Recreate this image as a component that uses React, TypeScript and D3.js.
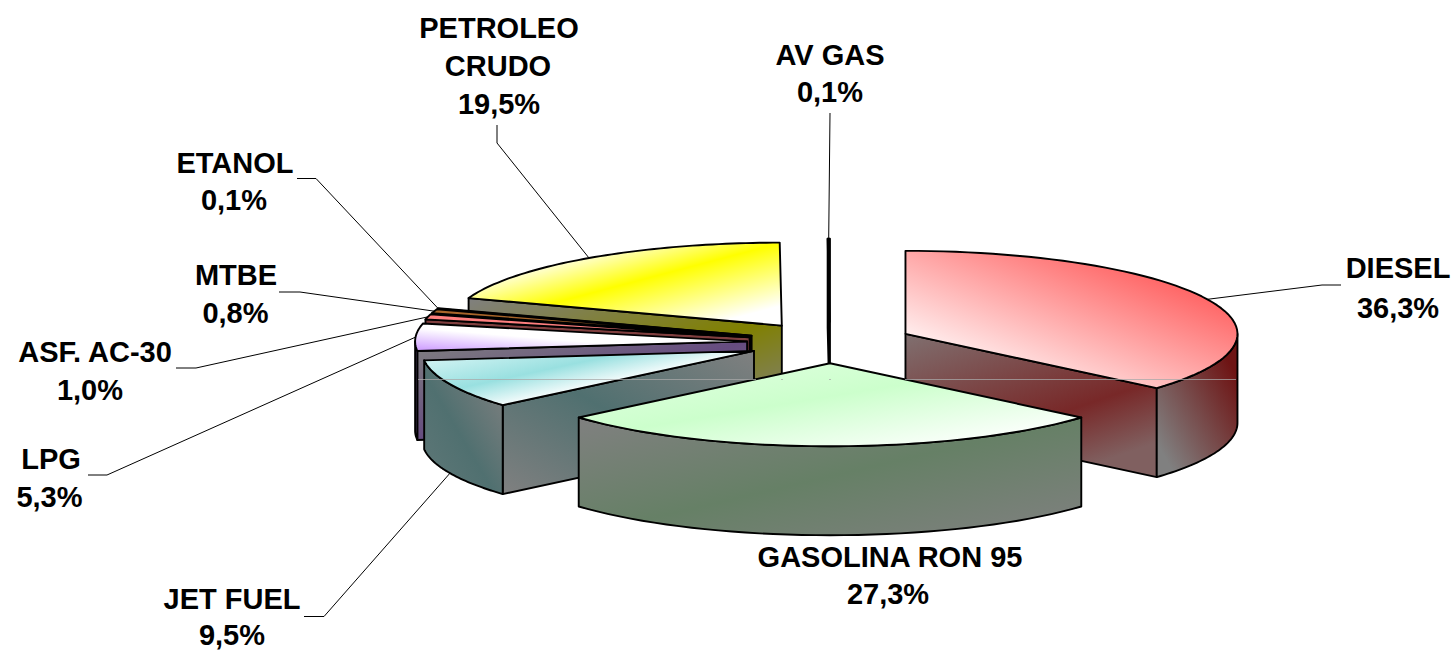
import React from "react";
import * as d3 from "d3";

const categories = ["DIESEL", "GASOLINA RON 95", "JET FUEL", "LPG", "ASF. AC-30", "MTBE", "ETANOL", "PETROLEO CRUDO", "AV GAS"];
const shares = [36.3, 27.3, 9.5, 5.3, 1.0, 0.8, 0.1, 19.5, 0.1];
const shareLabels = ["36,3%", "27,3%", "9,5%", "5,3%", "1,0%", "0,8%", "0,1%", "19,5%", "0,1%"];
const paintOrder = [8, 7, 6, 5, 4, 3, 2, 0, 1];

const W = 1454, H = 652;
const CX = 830, CY = 342.5, RX = 332, RY = 83, DEPTH = 89, EXPLODE = 0.25;

type Stop = [number, string];
type Grad = { v: [number, number, number, number]; stops: Stop[] } | string;
const GRAY = "#808080";
const styles: { top: Grad; cut: Grad; wall: Grad }[] = [
  {
    top: { v: [0, 1, 1, 0], stops: [[0.12, "#ffffff"], [0.82, "#ff5e5e"], [1, "#ff8a8a"]] },
    cut: { v: [0, 0, 0.6, 1], stops: [[0, "#807070"], [0.68, "#782828"], [1, "#806060"]] },
    wall: { v: [0, 1, 1, 0], stops: [[0.12, GRAY], [0.85, "#6e1414"]] },
  },
  {
    top: { v: [0, 0, 1, 1], stops: [[0, "#e4ffe4"], [0.45, "#ccffcc"], [0.9, "#ffffff"]] },
    cut: GRAY,
    wall: { v: [0, 0, 1, 1], stops: [[0, GRAY], [0.5, "#668066"], [1, GRAY]] },
  },
  {
    top: { v: [0, 0, 1, 0.77], stops: [[0, "#e0f8f8"], [0.4, "#99e0e0"], [0.66, "#ffffff"]] },
    cut: { v: [1, 0, 0, 1], stops: [[0, GRAY], [0.5, "#507070"], [1, GRAY]] },
    wall: { v: [1, 0, 0, 1], stops: [[0.05, GRAY], [0.55, "#507070"], [1, "#607878"]] },
  },
  {
    top: { v: [0, 1, 1, 0], stops: [[0, "#cc99ff"], [0.42, "#ffffff"]] },
    cut: { v: [0, 0, 1, 1], stops: [[0, GRAY], [0.5, "#664c80"], [1, GRAY]] },
    wall: "#664c80",
  },
  { top: "#ff7f7f", cut: "#803f3f", wall: "#803f3f" },
  { top: "#a8652a", cut: "#402408", wall: "#402408" },
  { top: "#303030", cut: "#000000", wall: "#000000" },
  {
    top: { v: [0, 0, 1, 1], stops: [[0.22, "#ffffff"], [0.5, "#ffff00"], [0.88, "#ffffff"]] },
    cut: { v: [0, 0, 1, 1], stops: [[0, GRAY], [0.57, "#808000"], [1, GRAY]] },
    wall: GRAY,
  },
  { top: "#000000", cut: "#000000", wall: "#000000" },
];

// name lines / share line: [centre x, baseline]
const labelLines: { t: string; x: number; y: number }[][] = [
  [{ t: "DIESEL", x: 1398, y: 278 }, { t: shareLabels[0], x: 1398, y: 318 }],
  [{ t: "GASOLINA RON 95", x: 890, y: 567 }, { t: shareLabels[1], x: 888, y: 604 }],
  [{ t: "JET FUEL", x: 232, y: 609 }, { t: shareLabels[2], x: 232, y: 645 }],
  [{ t: "LPG", x: 51, y: 469 }, { t: shareLabels[3], x: 49.5, y: 507 }],
  [{ t: "ASF. AC-30", x: 95, y: 362 }, { t: shareLabels[4], x: 90, y: 400 }],
  [{ t: "MTBE", x: 236, y: 285 }, { t: shareLabels[5], x: 235.5, y: 323 }],
  [{ t: "ETANOL", x: 235, y: 173 }, { t: shareLabels[6], x: 234, y: 210 }],
  [{ t: "PETROLEO", x: 499, y: 38 }, { t: "CRUDO", x: 498, y: 76 }, { t: shareLabels[7], x: 499, y: 114 }],
  [{ t: "AV GAS", x: 830, y: 65 }, { t: shareLabels[8], x: 830, y: 102 }],
];
// leader elbows: [label end, elbow]
const leaderElbows: [number, number][][] = [
  [[1341, 285], [1322, 285]],
  [],
  [[304, 616.5], [324, 616.5]],
  [[88, 475], [107, 475]],
  [[176, 368], [196, 368]],
  [[279, 292], [300, 292]],
  [[297, 178.5], [316, 178.5]],
  [[497, 125], [497, 143]],
  [[830, 113]],
];
const artifactSegments: [number, number][] = [[418, 756], [781, 783], [829, 831], [905, 1236]];

const arcs = d3.pie<number>().sort(null).startAngle(0).endAngle(2 * Math.PI)(shares);
const line = d3.line<[number, number]>();

function Gradient({ id, g }: { id: string; g: Grad }) {
  if (typeof g === "string") return null;
  return (
    <linearGradient id={id} x1={g.v[0]} y1={g.v[1]} x2={g.v[2]} y2={g.v[3]}>
      {g.stops.map(([o, c], i) => <stop key={i} offset={o} stopColor={c} />)}
    </linearGradient>
  );
}
const paint = (id: string, g: Grad) => (typeof g === "string" ? g : `url(#${id})`);

export default function App() {
  const slices = arcs.map((a, i) => {
    const mid = (a.startAngle + a.endAngle) / 2;
    const ax = CX + EXPLODE * RX * Math.sin(mid);
    const ay = CY - EXPLODE * RY * Math.cos(mid);
    const rim = (t: number, down = 0): [number, number] => [ax + RX * Math.sin(t), ay - RY * Math.cos(t) + down];
    const apex: [number, number] = [ax, ay];
    const steps = d3.range(0, 61).map((k) => a.startAngle + ((a.endAngle - a.startAngle) * k) / 60);
    const top = (line([apex, ...steps.map((t) => rim(t))]) ?? "") + "Z";
    const cutPath = (t: number) =>
      (line([apex, rim(t), rim(t, DEPTH), [ax, ay + DEPTH]]) ?? "") + "Z";
    const showStart = Math.sin(a.startAngle) < 0;
    const showEnd = Math.sin(a.endAngle) > 0;
    const w0 = Math.max(a.startAngle, Math.PI / 2);
    const w1 = Math.min(a.endAngle, (3 * Math.PI) / 2);
    let wall: string | null = null;
    if (w1 > w0) {
      const ws = d3.range(0, 41).map((k) => w0 + ((w1 - w0) * k) / 40);
      wall = (line([...ws.map((t) => rim(t)), ...ws.slice().reverse().map((t) => rim(t, DEPTH))]) ?? "") + "Z";
    }
    const frontMid = Math.cos(mid) < 0;
    const anchor = rim(mid, frontMid ? DEPTH : 0);
    return { i, top, wall, showStart, showEnd, cutStart: cutPath(a.startAngle), cutEnd: cutPath(a.endAngle), anchor };
  });

  return (
    <svg width={W} height={H} viewBox={`0 0 ${W} ${H}`} style={{ position: "absolute", left: 0, top: 0, background: "#fff" }}>
      <defs>
        {styles.map((s, i) => (
          <React.Fragment key={i}>
            <Gradient id={`top${i}`} g={s.top} />
            <Gradient id={`cut${i}`} g={s.cut} />
            <Gradient id={`wall${i}`} g={s.wall} />
          </React.Fragment>
        ))}
      </defs>
      <g stroke="#000" strokeLinejoin="round">
        {leaderElbows.map((pts, i) =>
          pts.length ? (
            <path key={i} d={line([...pts, slices[i].anchor]) ?? ""} fill="none" strokeWidth={1} />
          ) : null,
        )}
      </g>
      <g stroke="#000" strokeWidth={1.9} strokeLinejoin="round">
        {paintOrder.map((i) => {
          const s = slices[i];
          const st = styles[i];
          return (
            <g key={i}>
              {s.showStart && <path d={s.cutStart} fill={paint(`cut${i}`, st.cut)} />}
              {s.showEnd && <path d={s.cutEnd} fill={paint(`cut${i}`, st.cut)} />}
              {s.wall && <path d={s.wall} fill={paint(`wall${i}`, st.wall)} />}
              <path d={s.top} fill={paint(`top${i}`, st.top)} />
            </g>
          );
        })}
      </g>
      <g stroke="#a8a8a8" strokeOpacity={0.75} strokeWidth={1}>
        {artifactSegments.map(([a, b], i) => <line key={i} x1={a} x2={b} y1={379.5} y2={379.5} />)}
      </g>
      <g fontFamily="'Liberation Sans', Arial, sans-serif" fontWeight="bold" fontSize={29} fill="#000" textAnchor="middle">
        {categories.map((c, i) => (
          <g key={c}>
            {labelLines[i].map((l, j) => <text key={j} x={l.x} y={l.y}>{l.t}</text>)}
          </g>
        ))}
      </g>
    </svg>
  );
}
